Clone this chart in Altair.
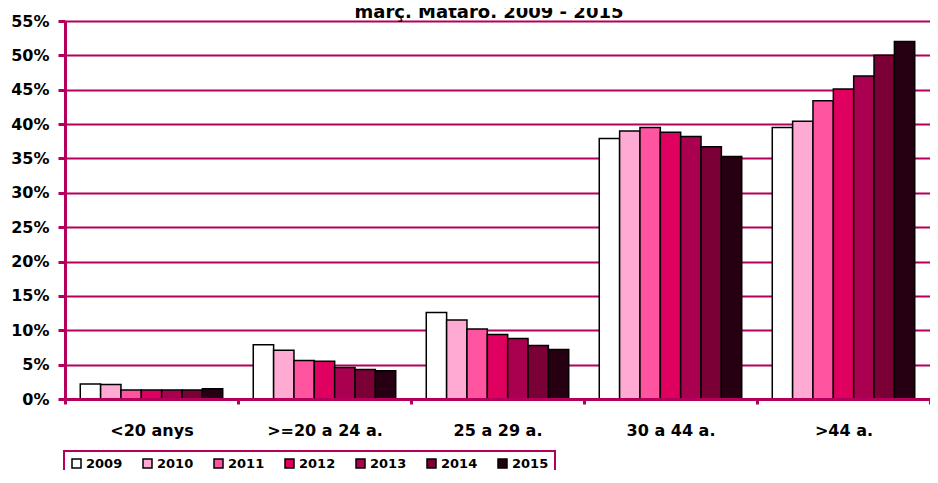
import altair as alt
import pandas as pd

GROUPS = ["<20 anys", ">=20 a 24 a.", "25 a 29 a.", "30 a 44 a.", ">44 a."]
YEARS = ["2009", "2010", "2011", "2012", "2013", "2014", "2015"]
V2009 = [2.2, 7.9, 12.6, 37.9, 39.5]
V2010 = [2.1, 7.1, 11.5, 39.0, 40.4]
V2011 = [1.3, 5.6, 10.2, 39.5, 43.4]
V2012 = [1.3, 5.5, 9.4, 38.8, 45.1]
V2013 = [1.3, 4.6, 8.8, 38.2, 47.0]
V2014 = [1.3, 4.3, 7.8, 36.7, 50.0]
V2015 = [1.5, 4.1, 7.2, 35.3, 52.0]
SERIES = [V2009, V2010, V2011, V2012, V2013, V2014, V2015]
COLORS = ["#FFFFFF", "#FFAAD2", "#FF55A0", "#E0005F", "#AA0050", "#7A0036", "#260012"]
Y_TICKS = [0, 0.05, 0.10, 0.15, 0.20, 0.25, 0.30, 0.35, 0.40, 0.45, 0.50, 0.55]
TITLE = "març. Mataró. 2009 - 2015"

rows = []
for yr, vals in zip(YEARS, SERIES):
    for g, v in zip(GROUPS, vals):
        rows.append({"grup": g, "any": yr, "valor": v / 100})
df = pd.DataFrame(rows)

MAG = "#B4005A"
FONT = "DejaVu Sans"

bars = alt.Chart(df).mark_bar(stroke="black", strokeWidth=1.5).encode(
    x=alt.X(
        "grup:N", sort=GROUPS, title=None,
        scale=alt.Scale(paddingInner=0, paddingOuter=0),
        axis=alt.Axis(
            labelAngle=0, labelFont=FONT, labelFontWeight="bold", labelFontSize=16,
            labelColor="black", labelPadding=18, tickSize=5, tickWidth=3, tickColor=MAG,
            domainColor=MAG, domainWidth=3, tickBand="extent", zindex=1, grid=False,
        ),
    ),
    xOffset=alt.XOffset("any:N", sort=YEARS, scale=alt.Scale(paddingInner=0, paddingOuter=0.75)),
    y=alt.Y(
        "valor:Q", title=None,
        scale=alt.Scale(domain=[0, 0.55], nice=False, zero=True),
        axis=alt.Axis(
            values=Y_TICKS, format=".0%", labelFont=FONT, labelFontWeight="bold",
            labelFontSize=16, labelColor="black", labelPadding=9, tickSize=7, tickWidth=3,
            tickColor=MAG, domainColor=MAG, domainWidth=3, grid=True, gridColor=MAG,
            gridWidth=2, gridOpacity=1, zindex=0,
        ),
    ),
    color=alt.Color(
        "any:N", sort=YEARS,
        scale=alt.Scale(domain=YEARS, range=COLORS),
        legend=alt.Legend(
            orient="none", legendX=-1, legendY=430, direction="horizontal", columns=7,
            title=None, symbolType="square", symbolSize=81, symbolStrokeColor="black",
            symbolStrokeWidth=1.5, symbolOpacity=1, labelFont=FONT, labelFontWeight="bold",
            labelFontSize=13, labelColor="black", labelOffset=3, columnPadding=17,
            padding=6, strokeColor=MAG, fillColor="white",
        ),
    ),
)

title_layer = alt.Chart(pd.DataFrame({"t": [TITLE]})).mark_text(
    font=FONT, fontWeight="bold", fontSize=18, align="center", baseline="alphabetic", color="black"
).encode(x=alt.value(424), y=alt.value(-3), text="t:N")

chart = alt.layer(bars, title_layer).properties(
    width=865, height=378,
    autosize=alt.AutoSizeParams(type="none"),
    padding={"left": 57, "top": 13, "right": 0, "bottom": 71},
).configure_view(stroke=None).configure_legend(strokeWidth=2)

chart.save("out.html", embed_options={"renderer": "svg", "actions": False})
